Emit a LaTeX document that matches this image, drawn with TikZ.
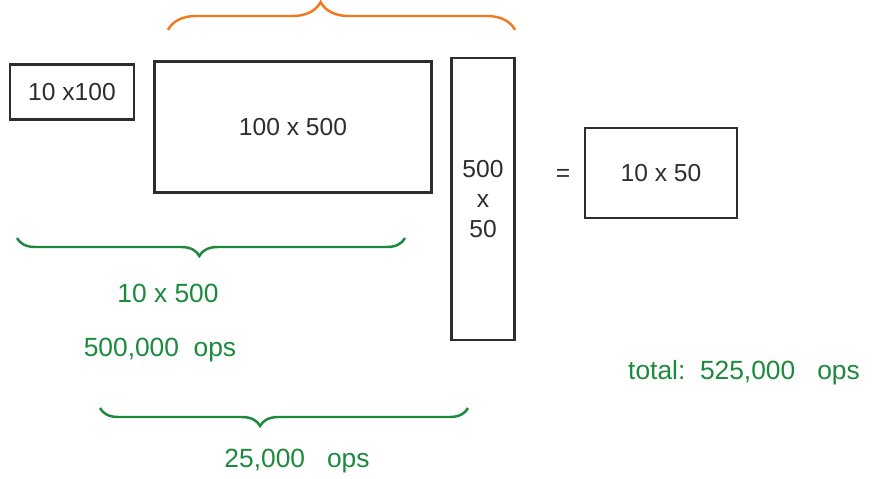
\documentclass[tikz,border=0pt]{standalone}
\usepackage{fontspec}
\setmainfont{Liberation Sans}
\usepackage{xcolor}
\usepackage{tikz}
\usetikzlibrary{decorations.pathreplacing}
\definecolor{cink}{HTML}{2E2E2E}
\definecolor{cgrn}{HTML}{1B8A3C}
\definecolor{corg}{HTML}{F07A1E}

\begin{document}
\begin{tikzpicture}[x=0.2mm,y=-0.2mm,line width=1.4pt,
  mat/.style={draw=cink,text=cink,inner sep=0pt,line width=1.4pt,font=\fontsize{14}{17}\selectfont},
  note/.style={text=cgrn,inner sep=0pt,font=\fontsize{15}{18}\selectfont},
  brc/.style={decorate,decoration={brace,amplitude=#1}}]
  \useasboundingbox (0,0) rectangle (876,478);
  \node[mat,minimum width=24.8mm,minimum height=11mm] (A) at (72,92) {10 x100};
  \node[mat,minimum width=55.4mm,minimum height=26.2mm] (B) at (293,127) {100 x 500};
  \node[mat,minimum width=12.6mm,minimum height=56.4mm,align=center] (C) at (483,199) {500\\x\\50};
  \node[mat,draw=none] (eq) at (563,175) {=};
  \node[mat,minimum width=30.4mm,minimum height=18mm] (D) at (661,173) {10 x 50};
  \draw[corg,brc=5.6mm,decoration={aspect=0.44}] (168,30) -- (515,30);
  \draw[cgrn,brc=3.6mm,decoration={aspect=0.53}] (405,238) -- (17,238);
  \draw[cgrn,brc=3.6mm,decoration={aspect=0.565}] (468,408) -- (100,408);
  \node[note] (mul) at (168,293) {10 x 500};
  \node[note] (opsB) at (160,350) {500,000\ \ ops};
  \node[note] (opsC) at (297,461) {25,000\ \ \ ops};
  \node[note] (tot) at (744,373) {total:\ \ 525,000\ \ \ ops};
\end{tikzpicture}
\end{document}
